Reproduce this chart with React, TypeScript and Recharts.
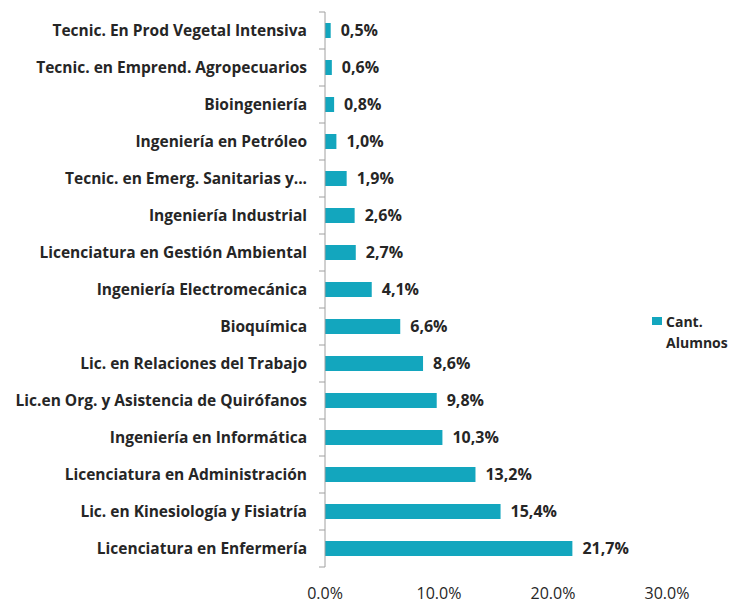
import React from "react";
import { BarChart, Bar, XAxis, YAxis, LabelList } from "recharts";

const categories = [
  "Tecnic. En Prod Vegetal Intensiva",
  "Tecnic. en Emprend. Agropecuarios",
  "Bioingeniería",
  "Ingeniería en Petróleo",
  "Tecnic. en Emerg. Sanitarias y...",
  "Ingeniería Industrial",
  "Licenciatura en Gestión Ambiental",
  "Ingeniería Electromecánica",
  "Bioquímica",
  "Lic. en Relaciones del Trabajo",
  "Lic.en Org. y Asistencia de Quirófanos",
  "Ingeniería en Informática",
  "Licenciatura en Administración",
  "Lic. en Kinesiología y Fisiatría",
  "Licenciatura en Enfermería",
];
const values = [0.5, 0.6, 0.8, 1.0, 1.9, 2.6, 2.7, 4.1, 6.6, 8.6, 9.8, 10.3, 13.2, 15.4, 21.7];
const xTicks = [0, 10, 20, 30];
const legendLines = ["Cant.", "Alumnos"];

const data = categories.map((c, i) => ({ name: c, value: values[i] }));

const FONT = "'Open Sans', sans-serif";
const TEXT = "#262626";
const BAR = "#13a6be";
const AXIS = "#a0a0a0";

const fmt = (v: number) => v.toFixed(1).replace(".", ",") + "%";

const YTick = (props: any) => {
  const { x, y, payload, index } = props;
  const half = 18.5;
  return (
    <g>
      <line x1={x - 6} x2={x} y1={y - half} y2={y - half} stroke={AXIS} strokeWidth={1} />
      {index === categories.length - 1 && (
        <line x1={x - 6} x2={x} y1={y + half} y2={y + half} stroke={AXIS} strokeWidth={1} />
      )}
      <text x={x - 18} y={y} dy="0.35em" textAnchor="end" fontFamily={FONT} fontWeight={700} fontSize={15.5} fill={TEXT}>
        {payload.value}
      </text>
    </g>
  );
};

export default function App() {
  return (
    <div style={{ position: "relative", width: 728, height: 595 }}>
      <BarChart
        width={728}
        height={595}
        data={data}
        layout="vertical"
        margin={{ top: 4, right: 69, bottom: 0, left: 0 }}
      >
        <XAxis
          type="number"
          domain={[0, 30]}
          ticks={xTicks}
          axisLine={false}
          tickLine={false}
          height={36}
          tickMargin={15}
          tickFormatter={(v: number) => v.toFixed(1) + "%"}
          tick={{ fontFamily: FONT, fontSize: 16, fill: TEXT }}
        />
        <YAxis
          type="category"
          dataKey="name"
          width={317}
          axisLine={{ stroke: AXIS }}
          tickLine={false}
          tickMargin={0}
          tickSize={0}
          interval={0}
          tick={<YTick />}
        />
        <Bar dataKey="value" name="Cant. Alumnos" fill={BAR} barSize={15} isAnimationActive={false}>
          <LabelList
            dataKey="value"
            position="right"
            offset={10}
            formatter={(v: number) => fmt(v)}
            style={{ fontFamily: FONT, fontWeight: 700, fontSize: 16, fill: TEXT }}
          />
        </Bar>
      </BarChart>
      <div
        style={{
          position: "absolute",
          left: 644,
          top: 303,
          width: 84,
          height: 50,
          fontFamily: FONT,
          fontWeight: 700,
          fontSize: 14,
          color: TEXT,
        }}
      >
        <div style={{ position: "absolute", left: 0, top: 6, width: 10, height: 8, background: BAR }} />
        <div style={{ position: "absolute", left: 14, top: 0, lineHeight: "21px", whiteSpace: "nowrap" }}>
          {legendLines[0]}
          <br />
          {legendLines[1]}
        </div>
      </div>
    </div>
  );
}
